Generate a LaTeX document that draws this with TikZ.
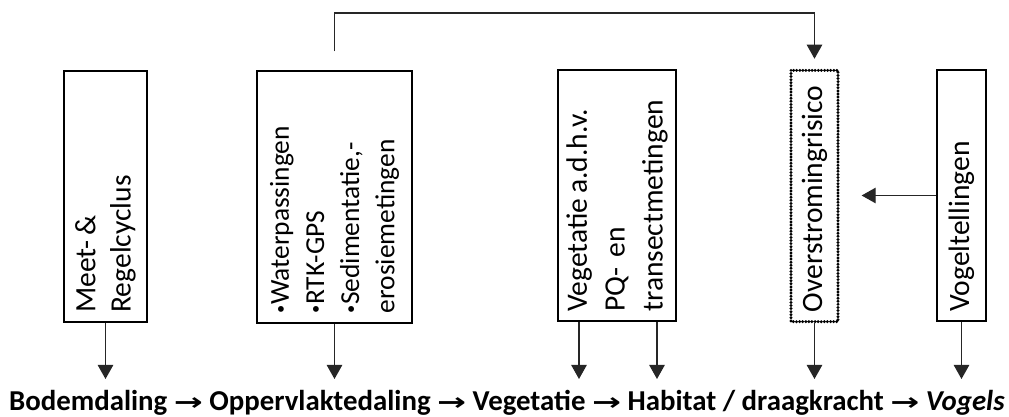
\documentclass[tikz,border=0pt]{standalone}
\usepackage{fontspec}
\setmainfont{Carlito}
\newfontfamily\symfont{DejaVu Sans}
\usetikzlibrary{arrows.meta, calc}
\newcommand{\chainarrow}{\scalebox{1.45}[1]{\symfont\bfseries\fontsize{17}{20}\selectfont →}}
\newcommand{\sbul}{\raisebox{0.25ex}{\scalebox{0.6}{•}}}

\begin{document}
\begin{tikzpicture}[
    x=0.025cm, y=-0.025cm, % work in pixels, y pointing down
    >={Triangle[width=11pt,length=10pt]}, % filled arrow heads
    box/.style={draw, line width=1.5pt, rotate=90, text width=5.8cm, inner xsep=0.24cm,
        inner ysep=0pt, align=left, font=\fontsize{21}{25}\selectfont}, % vertical boxes
    link/.style={->, line width=0.9pt, draw=black!85} % connectors
]
\useasboundingbox (0,0) rectangle (1009,416);

% Boxes (rotated: west = bottom, east = top, north = left, south = right)
\node[box, minimum height=2.075cm] (meet) at (105.5,196.5) {Meet-\,\&\\Regelcyclus};
\node[box, minimum height=3.875cm, font=\fontsize{19.5}{25}\selectfont] (water) at (334.5,197)
    {\sbul Waterpassingen\\\sbul RTK-GPS\\\sbul Sedimentatie,-\\erosiemetingen};
\node[box, minimum height=2.95cm, font=\fontsize{21}{27}\selectfont] (veget) at (617,195.5)
    {Vegetatie\,a.d.h.v.\\PQ-\ en\\transectmetingen};
\node[box, minimum height=1.175cm, dash pattern=on 0pt off 2.2pt, line cap=round, line width=2.3pt] (overstr) at (814.5,196) {Overstromingrisico};
\node[box, minimum height=1.225cm] (vogel) at (961.5,195.5) {Vogeltellingen};

% Chain of effects
\node[anchor=base, font=\fontsize{20.5}{24}\selectfont\bfseries] (chain) at (507,410)
    {Bodemdaling \chainarrow{} Oppervlaktedaling \chainarrow{} Vegetatie \chainarrow{} Habitat / draagkracht \chainarrow{} \textit{Vogels}};

% Helper coordinates
\coordinate (tips) at (0,379);
\coordinate (top) at (0,13);

% Arrows down to the chain
\draw[link] (meet.west) -- (meet.west |- tips);
\draw[link] (water.west) -- (water.west |- tips);
\draw[link] ($(veget.west)+(-38,0)$) coordinate (v1) -- (v1 |- tips);
\draw[link] ($(veget.west)+(40,0)$) coordinate (v2) -- (v2 |- tips);
\draw[link] (overstr.west) -- (overstr.west |- tips);
\draw[link] (vogel.west) -- (vogel.west |- tips);

% Feedback to flooding risk
\draw[link] ($(water.east)+(0,-19)$) -- (water.east |- top) -| ($(overstr.east)+(0,-10)$);
\draw[link] (vogel.north) -- ($(vogel.north -| overstr.south)+(22,0)$);

\end{tikzpicture}
\end{document}
